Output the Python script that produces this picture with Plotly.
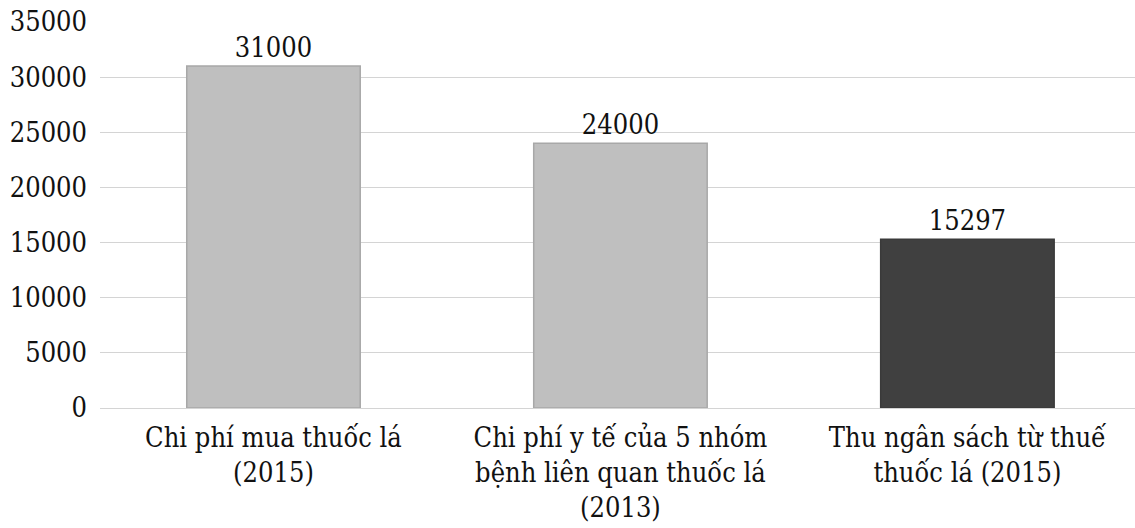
import plotly.graph_objects as go

# Chi phí liên quan đến thuốc lá (tỷ đồng)
categories = [
    "Chi phí mua thuốc lá<br>(2015)",
    "Chi phí y tế của 5 nhóm<br>bệnh liên quan thuốc lá<br>(2013)",
    "Thu ngân sách từ thuế<br>thuốc lá (2015)",
]
values = [31000, 24000, 15297]
bar_colors = ["#bfbfbf", "#bfbfbf", "#404040"]
edge_colors = ["#a8a8a8", "#a8a8a8", "#3a3a3a"]
y_ticks = [0, 5000, 10000, 15000, 20000, 25000, 30000, 35000]

serif = "DejaVu Serif Condensed"

fig = go.Figure(
    go.Bar(
        x=categories,
        y=values,
        text=[str(v) for v in values],
        textposition="outside",
        textfont=dict(family=serif, size=27, color="#111111"),
        cliponaxis=False,
        marker=dict(color=bar_colors, line=dict(color=edge_colors, width=1.5)),
    )
)

fig.update_layout(
    width=1135,
    height=528,
    margin=dict(l=100, r=0, t=22, b=120),
    paper_bgcolor="white",
    plot_bgcolor="white",
    bargap=0.5,
    showlegend=False,
    font=dict(family=serif, size=27, color="#111111"),
)

fig.update_yaxes(
    range=[0, 35000],
    tickvals=y_ticks,
    ticktext=[str(t) for t in y_ticks],
    showgrid=True,
    gridcolor="#d4d4d4",
    gridwidth=1,
    zeroline=True,
    zerolinecolor="#d4d4d4",
    zerolinewidth=1,
    showline=False,
    ticks="",
    ticklabelstandoff=12,
    tickfont=dict(family=serif, size=27, color="#111111"),
)

fig.update_xaxes(
    range=[-0.5, 2.483],
    showline=False,
    ticks="",
    tickangle=0,
    ticklabelstandoff=11,
    tickfont=dict(family=serif, size=27, color="#111111"),
)

fig.write_html("out.html")
